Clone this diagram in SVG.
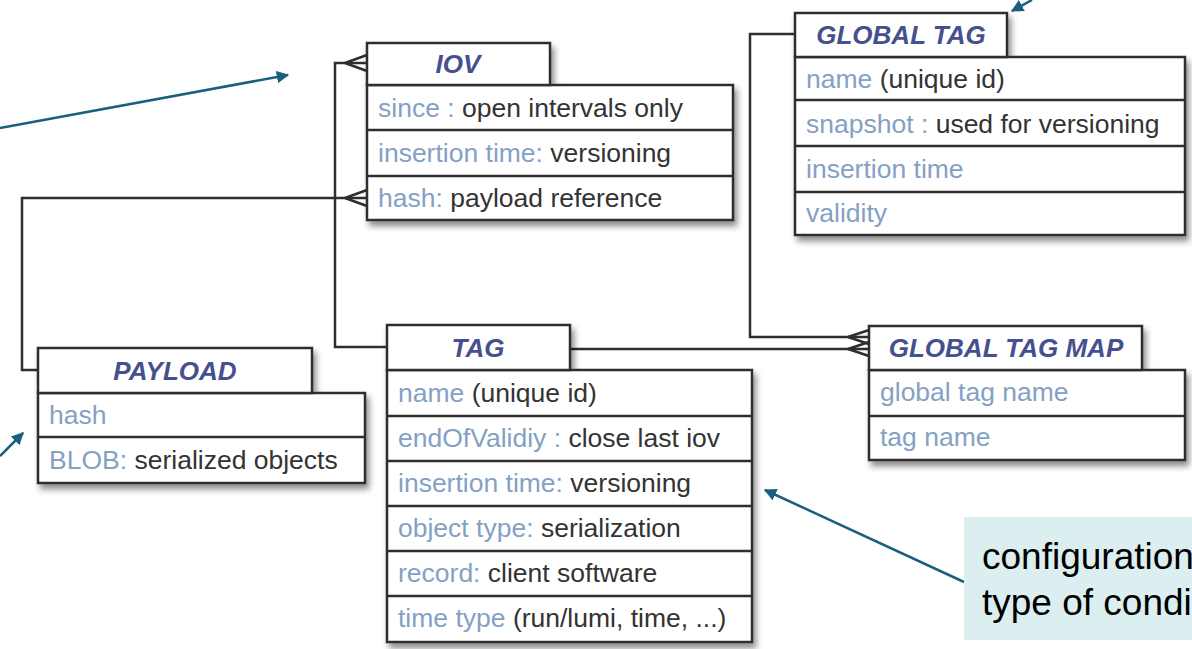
<svg xmlns="http://www.w3.org/2000/svg" width="1192" height="649" viewBox="0 0 1192 649">
<defs>
<filter id="sh" x="-10%" y="-10%" width="130%" height="130%">
<feDropShadow dx="3" dy="5" stdDeviation="3" flood-color="#000" flood-opacity="0.45"/>
</filter>
<marker id="ah" viewBox="0 0 10 10" refX="9" refY="5" markerWidth="5" markerHeight="5" orient="auto" markerUnits="strokeWidth">
<path d="M0,0 L10,5 L0,10 z" fill="#1b5f7e"/>
</marker>
<style>
.box{fill:#fff;stroke:#2e2e2e;stroke-width:2.5}
.sep{stroke:#2e2e2e;stroke-width:2.5}
.hd{font-family:"Liberation Sans",Arial,sans-serif;font-weight:bold;font-style:italic;font-size:26px;fill:#46508f;text-anchor:middle}
.at{font-family:"Liberation Sans",Arial,sans-serif;font-size:26.5px;fill:#333}
.k{fill:#84a1c4}
.con{fill:none;stroke:#2e2e2e;stroke-width:2.5}
.arr{fill:none;stroke:#1b5f7e;stroke-width:2.5;marker-end:url(#ah)}
.note{font-family:"Liberation Sans",Arial,sans-serif;font-size:37px;fill:#000}
</style>
</defs>
<rect width="1192" height="649" fill="#fff"/>

<g id="connectors">
<path class="con" d="M387,347 H335 V63 H367"/>
<path class="con" d="M345,63 L367,55 M345,63 L367,71"/>
<path class="con" d="M38,370 H22 V198 H367"/>
<path class="con" d="M345,198 L367,190 M345,198 L367,206"/>
<path class="con" d="M795,34 H750 V337 H869"/>
<path class="con" d="M848,337 L869,330 M848,337 L869,344"/>
<path class="con" d="M570,349 H869"/>
<path class="con" d="M848,349 L869,342 M848,349 L869,356"/>
<path class="arr" d="M0,128 L288,75"/>
<path class="arr" d="M1032,0 L1012,11"/>
<path class="arr" d="M0,456 L23,433"/>
<path class="arr" d="M964,582 L765,490"/>
</g>

<g id="iov">
<g filter="url(#sh)">
<rect class="box" x="367" y="85" width="366" height="135"/>
<rect class="box" x="367" y="43" width="183" height="42"/>
</g>
<line class="sep" x1="367" y1="130" x2="733" y2="130"/>
<line class="sep" x1="367" y1="176" x2="733" y2="176"/>
<text class="hd" x="458" y="73">IOV</text>
<text class="at" x="378" y="117"><tspan class="k">since :</tspan> open intervals only</text>
<text class="at" x="378" y="162"><tspan class="k">insertion time:</tspan> versioning</text>
<text class="at" x="378" y="207"><tspan class="k">hash:</tspan> payload reference</text>
</g>

<g id="global-tag">
<g filter="url(#sh)">
<rect class="box" x="795" y="57" width="390" height="178"/>
<rect class="box" x="795" y="13" width="212" height="44"/>
</g>
<line class="sep" x1="795" y1="100" x2="1185" y2="100"/>
<line class="sep" x1="795" y1="146" x2="1185" y2="146"/>
<line class="sep" x1="795" y1="192" x2="1185" y2="192"/>
<text class="hd" x="901" y="44">GLOBAL TAG</text>
<text class="at" x="806" y="88"><tspan class="k">name</tspan> (unique id)</text>
<text class="at" x="806" y="133"><tspan class="k">snapshot :</tspan> used for versioning</text>
<text class="at" x="806" y="178"><tspan class="k">insertion time</tspan></text>
<text class="at" x="806" y="222"><tspan class="k">validity</tspan></text>
</g>

<g id="payload">
<g filter="url(#sh)">
<rect class="box" x="38" y="393" width="327" height="90"/>
<rect class="box" x="38" y="348" width="274" height="45"/>
</g>
<line class="sep" x1="38" y1="437" x2="365" y2="437"/>
<text class="hd" x="175" y="380">PAYLOAD</text>
<text class="at" x="49" y="424"><tspan class="k">hash</tspan></text>
<text class="at" x="49" y="469"><tspan class="k">BLOB:</tspan> serialized objects</text>
</g>

<g id="tag">
<g filter="url(#sh)">
<rect class="box" x="387" y="370" width="365" height="272"/>
<rect class="box" x="387" y="325" width="183" height="45"/>
</g>
<line class="sep" x1="387" y1="416" x2="752" y2="416"/>
<line class="sep" x1="387" y1="461" x2="752" y2="461"/>
<line class="sep" x1="387" y1="506" x2="752" y2="506"/>
<line class="sep" x1="387" y1="551" x2="752" y2="551"/>
<line class="sep" x1="387" y1="596" x2="752" y2="596"/>
<text class="hd" x="478" y="357">TAG</text>
<text class="at" x="398" y="402"><tspan class="k">name</tspan> (unique id)</text>
<text class="at" x="398" y="447"><tspan class="k">endOfValidiy :</tspan> close last iov</text>
<text class="at" x="398" y="492"><tspan class="k">insertion time:</tspan> versioning</text>
<text class="at" x="398" y="537"><tspan class="k">object type:</tspan> serialization</text>
<text class="at" x="398" y="582"><tspan class="k">record:</tspan> client software</text>
<text class="at" x="398" y="627"><tspan class="k">time type</tspan> (run/lumi, time, ...)</text>
</g>

<g id="global-tag-map">
<g filter="url(#sh)">
<rect class="box" x="869" y="370" width="316" height="90"/>
<rect class="box" x="869" y="326" width="273" height="44"/>
</g>
<line class="sep" x1="869" y1="416" x2="1185" y2="416"/>
<text class="hd" x="1006" y="357">GLOBAL TAG MAP</text>
<text class="at" x="880" y="401"><tspan class="k">global tag name</tspan></text>
<text class="at" x="880" y="446"><tspan class="k">tag name</tspan></text>
</g>

<g id="note">
<rect x="964" y="517" width="228" height="123" fill="#dbeef0"/>
<text class="note" x="982" y="569">configuration</text>
<text class="note" x="982" y="615">type of condi</text>
</g>
</svg>
